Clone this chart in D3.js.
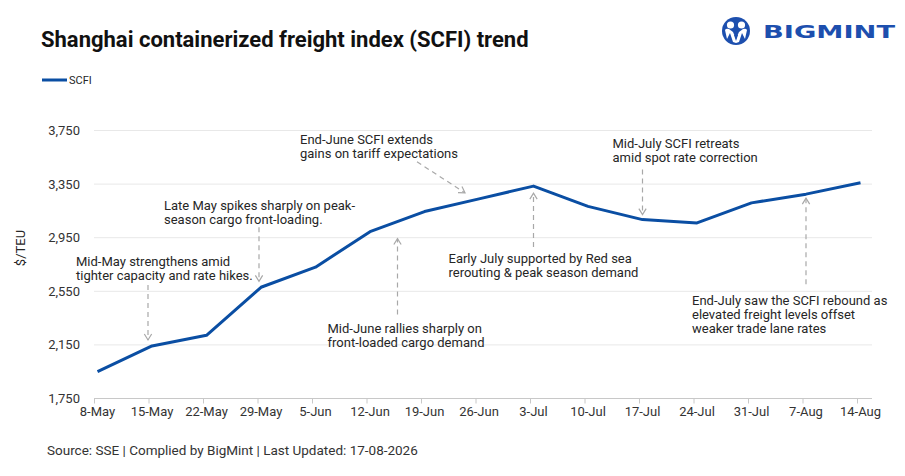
<!DOCTYPE html>
<meta charset="utf-8">
<style>
body{margin:0;background:#fff;}
text{font-family:Roboto,"Liberation Sans",sans-serif;fill:#262626;}
.grid line{stroke:#e8e8e8;stroke-width:1;}
.note{font-size:13px;}
.tick-x{font-family:"Liberation Sans Narrow","Roboto",sans-serif;font-size:13px;fill:#333;}
.tick-y{font-size:13px;fill:#333;}
.arrow{stroke:#a8a8a8;stroke-width:1.2;fill:none;}
</style>
<body>
<script src="https://d3js.org/d3.v7.min.js"></script>
<script>

var dates=["8-May","15-May","22-May","29-May","5-Jun","12-Jun","19-Jun","26-Jun","3-Jul","10-Jul","17-Jul","24-Jul","31-Jul","7-Aug","14-Aug"];
var scfi=[1950,2142,2222,2580,2730,2995,3145,3240,3335,3184,3085,3060,3210,3275,3360];
var yTicks=[1750,2150,2550,2950,3350,3750];

// call-out notes, placed relative to the point they point at
var notes=[
 {at:"15-May",lines:["Mid-May strengthens amid","tighter capacity and rate hikes."],dx:-76,dy:-80,ax:-4,a0:-61,a1:-6},
 {at:"29-May",lines:["Late May spikes sharply on peak-","season cargo front-loading."],dx:-97,dy:-77,ax:-2,a0:-60,a1:-6},
 {at:"26-Jun",lines:["End-June SCFI extends","gains on tariff expectations"],dx:-179,dy:-55,diag:[-62,-37,-14,-6]},
 {at:"19-Jun",lines:["Mid-June rallies sharply on","front-loaded cargo demand"],dx:-97,dy:121,ax:-27,a0:103,a1:27},
 {at:"3-Jul",lines:["Early July supported by Red sea","rerouting & peak season demand"],dx:-85,dy:77,ax:0,a0:61,a1:7},
 {at:"17-Jul",lines:["Mid-July SCFI retreats","amid spot rate correction"],dx:-30,dy:-72,ax:0,a0:-50,a1:-5},
 {at:"7-Aug",lines:["End-July saw the SCFI rebound as","elevated freight levels offset","weaker trade lane rates"],dx:-114,dy:111,ax:0,a0:90,a1:4}
];

var W=905,H=476;
var svg=d3.select("body").append("svg").attr("width",W).attr("height",H);

var x=d3.scalePoint().domain(dates).range([97.5,860.5]);
var y=d3.scaleLinear().domain([1750,3750]).range([398.5,130.5]);
var gx0=94,gx1=872;

// title + legend
svg.append("text").attr("x",41).attr("y",47).style("font-size","22px").style("font-weight","700")
	.style("fill","#111").text("Shanghai containerized freight index (SCFI) trend");
svg.append("line").attr("x1",42).attr("x2",67).attr("y1",80).attr("y2",80)
	.attr("stroke","#0a4ea3").attr("stroke-width",3);
svg.append("text").attr("x",69).attr("y",84).style("font-size",11).text("SCFI");

// logo
var logo=svg.append("g").attr("transform","translate(736,31)");
logo.append("circle").attr("r",14).attr("fill","#1d4fae");
logo.append("circle").attr("cx",-5.5).attr("cy",-6).attr("r",3.6).attr("fill","#fff");
logo.append("circle").attr("cx",5.5).attr("cy",-6).attr("r",3.6).attr("fill","#fff");
logo.append("path").attr("d","M-11,-1 Q-10,-3 -7,-2 L-3,1 L0,8 L3,1 L7,-2 Q10,-3 11,-1 L9,8 L6,2 L3,11 L0,12 L-3,11 L-6,2 L-9,8 Z")
	.attr("fill","#fff");
logo.append("path").attr("d","M-2,4 L0,10 L2,4 Z").attr("fill","#1d4fae");
svg.append("text").attr("x",763).attr("y",38).attr("textLength",132).attr("lengthAdjust","spacingAndGlyphs")
	.style("font-family","'DejaVu Sans',sans-serif").style("font-weight","700").style("font-size","17px")
	.style("fill","#1d4fae").text("BIGMINT");

// grid + y labels
var grid=svg.append("g").attr("class","grid");
grid.selectAll("line").data(yTicks.slice(1)).join("line")
	.attr("x1",gx0).attr("x2",gx1).attr("y1",d=>y(d)).attr("y2",d=>y(d));
svg.selectAll(".tick-y").data(yTicks).join("text").attr("class","tick-y")
	.attr("x",80).attr("y",d=>y(d)+4.5).attr("text-anchor","end").text(d3.format(","));
svg.append("text").attr("transform","translate(25,248) rotate(-90)").attr("text-anchor","middle")
	.style("font-size","13px").text("$/TEU");

// x axis
var xa=svg.append("g").attr("transform","translate(0,"+y(1750)+")");
xa.append("line").attr("x1",gx0).attr("x2",gx1).attr("stroke","#c8c8c8");
xa.selectAll(".tk").data(dates).join("line").attr("class","tk")
	.attr("x1",d=>x(d)-3).attr("x2",d=>x(d)-3).attr("y1",0).attr("y2",5).attr("stroke","#c8c8c8");
xa.selectAll(".tick-x").data(dates).join("text").attr("class","tick-x")
	.attr("x",d=>x(d)).attr("y",17).attr("text-anchor","middle").text(d=>d);

// series
var pts=dates.map((d,i)=>[x(d),y(scfi[i])]);
svg.append("path").attr("d",d3.line()(pts)).attr("fill","none")
	.attr("stroke","#0a4ea3").attr("stroke-width",3).attr("stroke-linejoin","round");

// notes
function head(g,x2,y2,ang){
	var L=7,s=0.55;
	var p1=[x2-L*Math.cos(ang-s),y2-L*Math.sin(ang-s)],p2=[x2-L*Math.cos(ang+s),y2-L*Math.sin(ang+s)];
	g.append("path").attr("class","arrow").attr("d","M"+p1+"L"+x2+","+y2+"L"+p2);
}
notes.forEach(function(n){
	var i=dates.indexOf(n.at),px=x(n.at),py=y(scfi[i]);
	var t=svg.append("text").attr("class","note").attr("x",px+n.dx).attr("y",py+n.dy);
	n.lines.forEach((l,k)=>t.append("tspan").attr("x",px+n.dx).attr("dy",k?14:0).text(l));
	var x1,y1,x2,y2;
	if(n.diag){x1=px+n.diag[0];y1=py+n.diag[1];x2=px+n.diag[2];y2=py+n.diag[3];}
	else{x1=x2=px+n.ax;y1=py+n.a0;y2=py+n.a1;}
	svg.append("line").attr("class","arrow").attr("x1",x1).attr("y1",y1).attr("x2",x2).attr("y2",y2)
		.attr("stroke-dasharray","5,4");
	head(svg,x2,y2,Math.atan2(y2-y1,x2-x1));
});

// source
svg.append("text").attr("x",47).attr("y",455).style("font-family","'Liberation Sans Narrow',Roboto,sans-serif")
	.style("font-size","13.5px").style("fill","#333")
	.text("Source: SSE | Complied by BigMint | Last Updated: 17-08-2026");
</script>
</body>
